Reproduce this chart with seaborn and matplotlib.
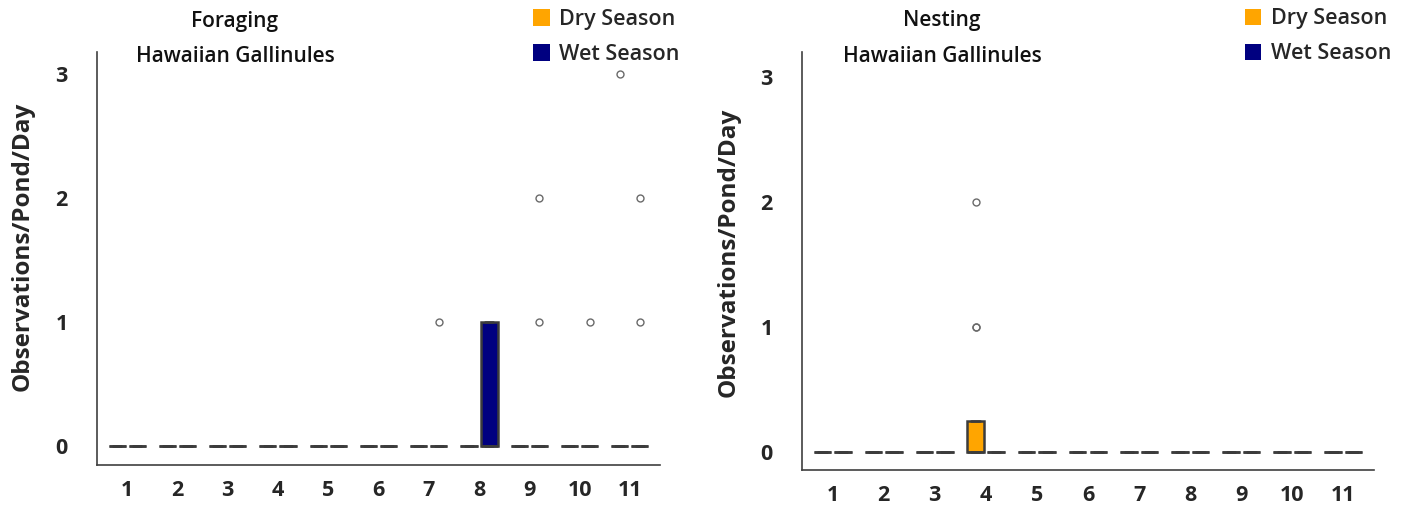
import numpy as np
import pandas as pd
import matplotlib
matplotlib.use("Agg")
import matplotlib.pyplot as plt
from matplotlib.patches import Patch
import seaborn as sns

# ---- data ----
sites = [str(i) for i in range(1, 12)]
seasons = ["Dry Season", "Wet Season"]
n_obs = 12  # daily observations per pond per season

# non-zero observations per site (all other observations are 0)
forage_dry_nonzero = {"11": [3]}
forage_wet_nonzero = {"7": [1], "8": [1, 1, 1, 1], "9": [1, 2], "10": [1], "11": [1, 2]}
nest_dry_nonzero = {"4": [1, 1, 2]}
nest_wet_nonzero = {}

panel_titles = ["Foraging\nHawaiian Gallinules", "Nesting\nHawaiian Gallinules"]
y_ticks = [0, 1, 2, 3]
ylabel = "Observations/Pond/Day"
colors = {"Dry Season": "#FFA500", "Wet Season": "#000080"}


def build(dry_nz, wet_nz):
    rows = []
    for season, nz in zip(seasons, [dry_nz, wet_nz]):
        for s in sites:
            vals = nz.get(s, [])
            obs = [0] * (n_obs - len(vals)) + list(vals)
            for v in obs:
                rows.append({"site": s, "season": season, "value": v})
    return pd.DataFrame(rows)


df_forage = build(forage_dry_nonzero, forage_wet_nonzero)
df_nest = build(nest_dry_nonzero, nest_wet_nonzero)

sns.set_style("white")
plt.rcParams["font.family"] = ["Open Sans", "DejaVu Sans"]

fig = plt.figure(figsize=(14.12, 5.08), dpi=100)
ax1 = fig.add_axes([0.0687, 0.0846, 0.3987, 0.8130])
ax2 = fig.add_axes([0.5680, 0.0748, 0.4051, 0.8228])

line_col = "#3c3c3c"
specs = [
    (ax1, df_forage, (-0.152, 3.176), panel_titles[0], (-0.11, 0.53)),
    (ax2, df_nest, (-0.143, 3.199), panel_titles[1], (-0.108, 0.52)),
]
for ax, df, ylim, title, lab_xy in specs:
    sns.boxplot(
        data=df, x="site", y="value", hue="season", order=sites,
        hue_order=seasons, palette=colors, saturation=1, width=0.8, gap=0.15,
        linecolor=line_col, linewidth=1.8, fliersize=5,
        flierprops=dict(marker="o", markerfacecolor="none",
                        markeredgecolor="#6a6a6a", markeredgewidth=1.0),
        legend=False, ax=ax,
    )
    ax.set_xlim(-0.6, 10.6)
    ax.set_ylim(*ylim)
    ax.set_yticks(y_ticks)
    ax.set_yticklabels([str(t) for t in y_ticks])
    ax.set_xlabel("")
    ax.set_ylabel(ylabel, fontsize=17.5, fontweight="bold")
    ax.yaxis.set_label_coords(*lab_xy)
    for sp in ["top", "right"]:
        ax.spines[sp].set_visible(False)
    for sp in ["left", "bottom"]:
        ax.spines[sp].set_color("#404040")
        ax.spines[sp].set_linewidth(1.2)
    ax.tick_params(axis="both", which="major", length=3, width=0.8,
                   color="#888888", labelsize=15.5)
    ax.tick_params(axis="x", pad=8)
    ax.tick_params(axis="y", pad=18)
    for lab in ax.get_xticklabels() + ax.get_yticklabels():
        lab.set_fontweight("bold")
    t1, t2 = title.split("\n")
    ax.text(0.245, 1.075, t1, transform=ax.transAxes, ha="center",
            va="center", fontsize=15, fontweight="semibold", color="#111111")
    ax.text(0.245, 0.99, t2, transform=ax.transAxes, ha="center",
            va="center", fontsize=15, fontweight="semibold", color="#111111")
    handles = [Patch(facecolor=colors[s], edgecolor="none", label=s)
               for s in seasons]
    leg = ax.legend(handles=handles, loc="upper left", bbox_to_anchor=(0.76, 1.125),
                    frameon=False, fontsize=15.5, handlelength=0.75, handleheight=0.8,
                    handletextpad=0.45, labelspacing=0.65, borderaxespad=0)
    for t in leg.get_texts():
        t.set_fontweight("semibold")

fig.savefig("out.png", dpi=100)
